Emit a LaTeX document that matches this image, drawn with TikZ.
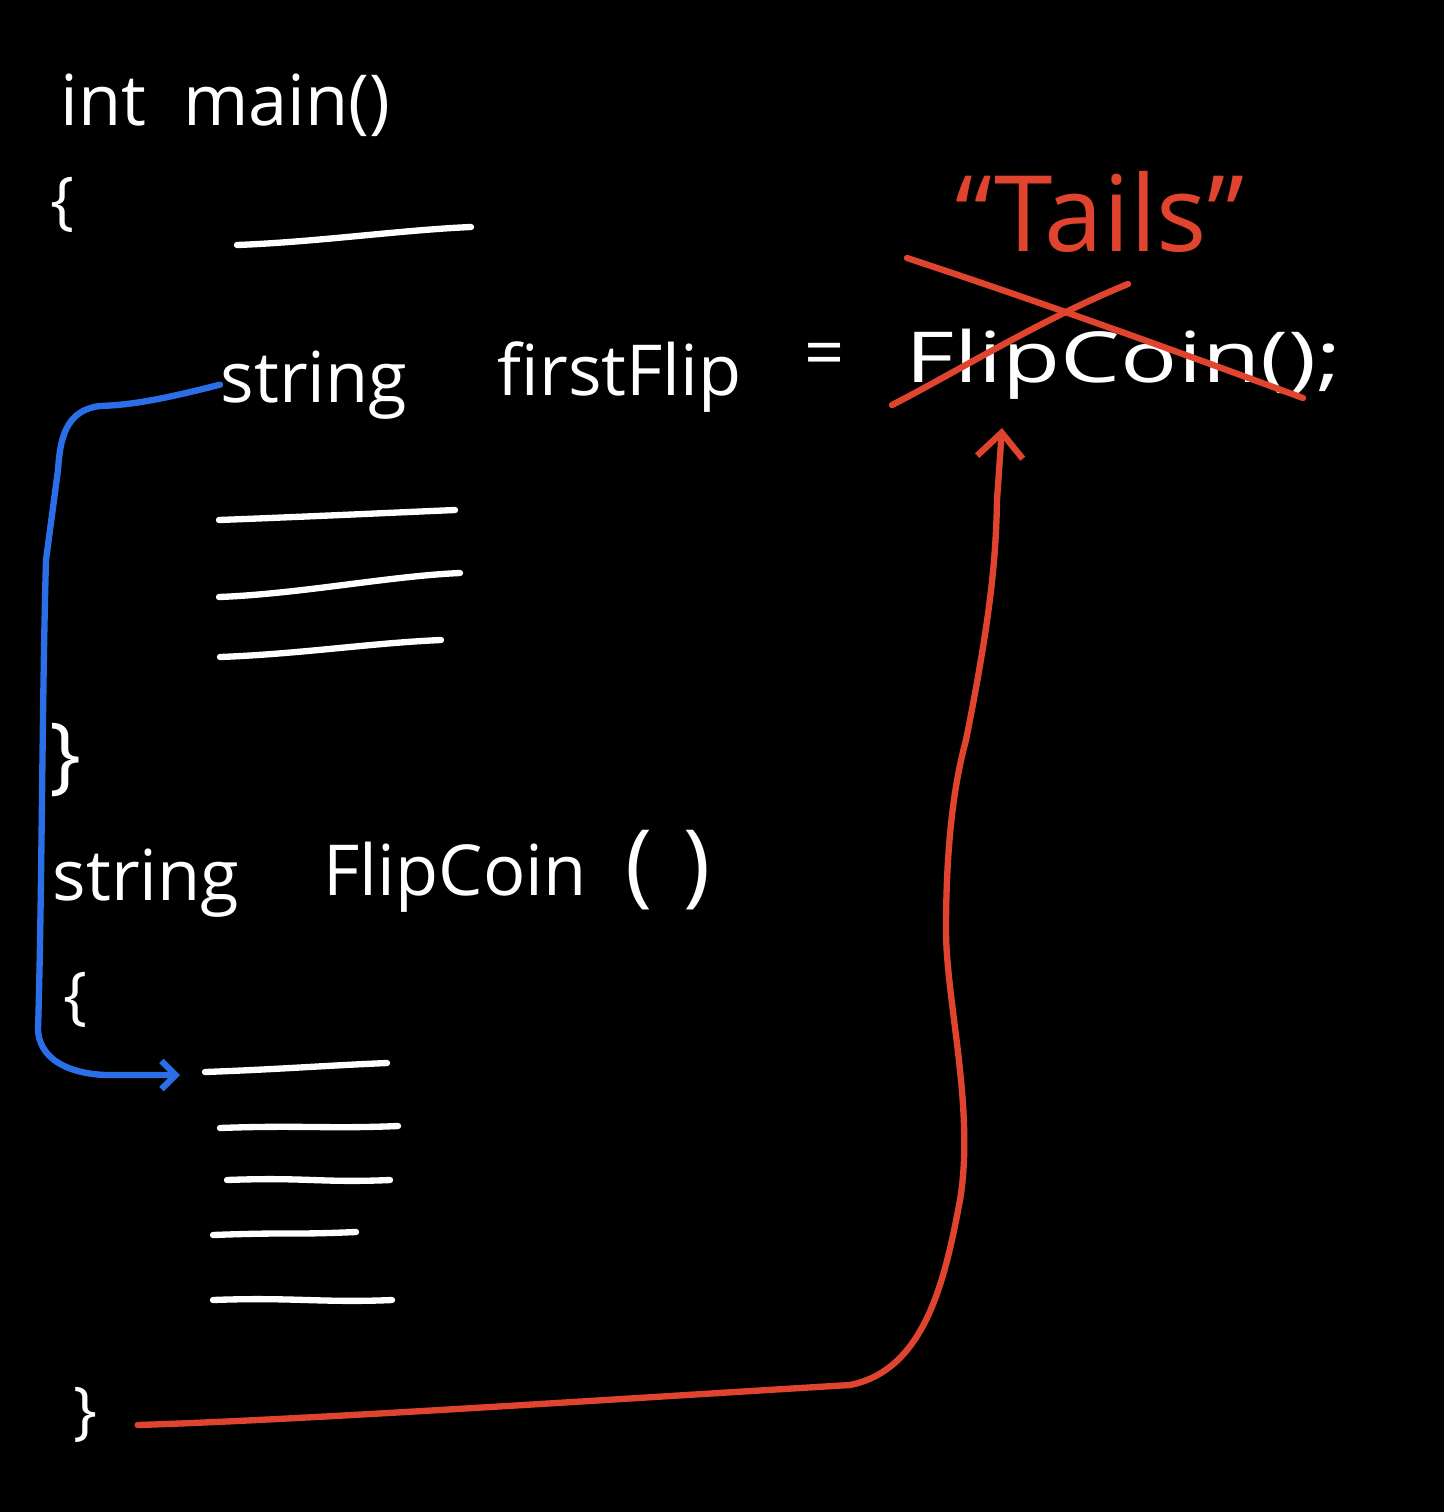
\documentclass[tikz,border=0pt]{standalone}
\usepackage{fontspec}
\setmainfont{Open Sans}
\usetikzlibrary{positioning,arrows.meta}
\definecolor{ChalkRed}{HTML}{E0442F}
\definecolor{ChalkBlue}{HTML}{2A6FE8}

\begin{document}
\begin{tikzpicture}[
      x=0.01cm, y=-0.01cm,
      every node/.style={text=white, inner sep=0pt, font=\fontsize{20}{22}\selectfont},
      code/.style={anchor=base west},
      brace/.style={font=\fontsize{18}{20}\selectfont},
      stroke/.style={white, line width=1.8pt, line cap=round},
      cross/.style={ChalkRed, line width=1.8pt, line cap=round},
      flow/.style={line width=1.8pt, line cap=round, line join=round}
    ]

      % Board
      \fill[black] (0,0) rectangle (1444,1512);
      \useasboundingbox (0,0) rectangle (1444,1512);

      % main
      \node[code] (intmain) at (60,125) {int\ \ main()};
      \node[brace] (open1) at (62,205) {\{};
      \node[code] (strA) at (220,402) {string};
      \node[code] (firstflip) at (497,395) {firstFlip};
      \node (equals) at (825,360) {=};
      \node[code] (call) at (905,382) {\scalebox{1.35}[1]{FlipCoin();}};
      \node[brace, font=\fontsize{24}{26}\selectfont] (close1) at (65,760) {\}};

      % result
      \node[text=ChalkRed, font=\fontsize{30}{32}\selectfont] (tails) at (1100,212) {“Tails”};
      \draw[cross] (907,258) .. controls (1050,305) and (1200,360) .. (1303,398);
      \draw[cross] (1128,284) .. controls (1040,320) and (960,370) .. (892,405);

      % FlipCoin
      \node[code] (strB) at (52,900) {string};
      \node[code] (flipcoin) at (323,895) {FlipCoin};
      \node[code, font=\fontsize{26}{28}\selectfont] (parens) at (625,895) {(\,\,)};
      \node[brace] (open2) at (75,1000) {\{};
      \node[brace] (close2) at (85,1415) {\}};

      % placeholder lines
      \foreach \xa/\ya/\xb/\yb in {237/245/471/227, 219/520/455/510, 219/597/460/573,
          220/657/441/640, 205/1072/387/1063, 220/1128/398/1126, 227/1180/390/1180,
          213/1235/356/1232, 213/1300/392/1300}
        \draw[stroke] (\xa,\ya) .. controls (\xa+80,\ya-3) and (\xb-70,\yb+3) .. (\xb,\yb);

      % calls
      \coordinate (callin) at (180,1075);
      \coordinate (retin) at (1002,428);
      \draw[flow, ChalkBlue, -{Straight Barb[length=4pt, width=8pt]}] (strA.west) .. controls (160,400) and (130,405) .. (100,406)
        .. controls (65,410) and (60,440) .. (58,470) -- (46,560)
        .. controls (42,700) and (42,900) .. (38,1030)
        .. controls (40,1065) and (80,1076) .. (115,1075) -- (callin);
      \draw[flow, ChalkRed, -{Straight Barb[length=7pt, width=13pt]}] (close2.east) ++(40,10) .. controls (300,1420) and (600,1400) .. (850,1385)
        .. controls (925,1370) and (945,1280) .. (960,1200)
        .. controls (975,1110) and (946,1000) .. (946,930)
        .. controls (946,840) and (955,780) .. (966,740)
        .. controls (990,620) and (996,560) .. (997,500) -- (retin);

    \end{tikzpicture}
\end{document}
